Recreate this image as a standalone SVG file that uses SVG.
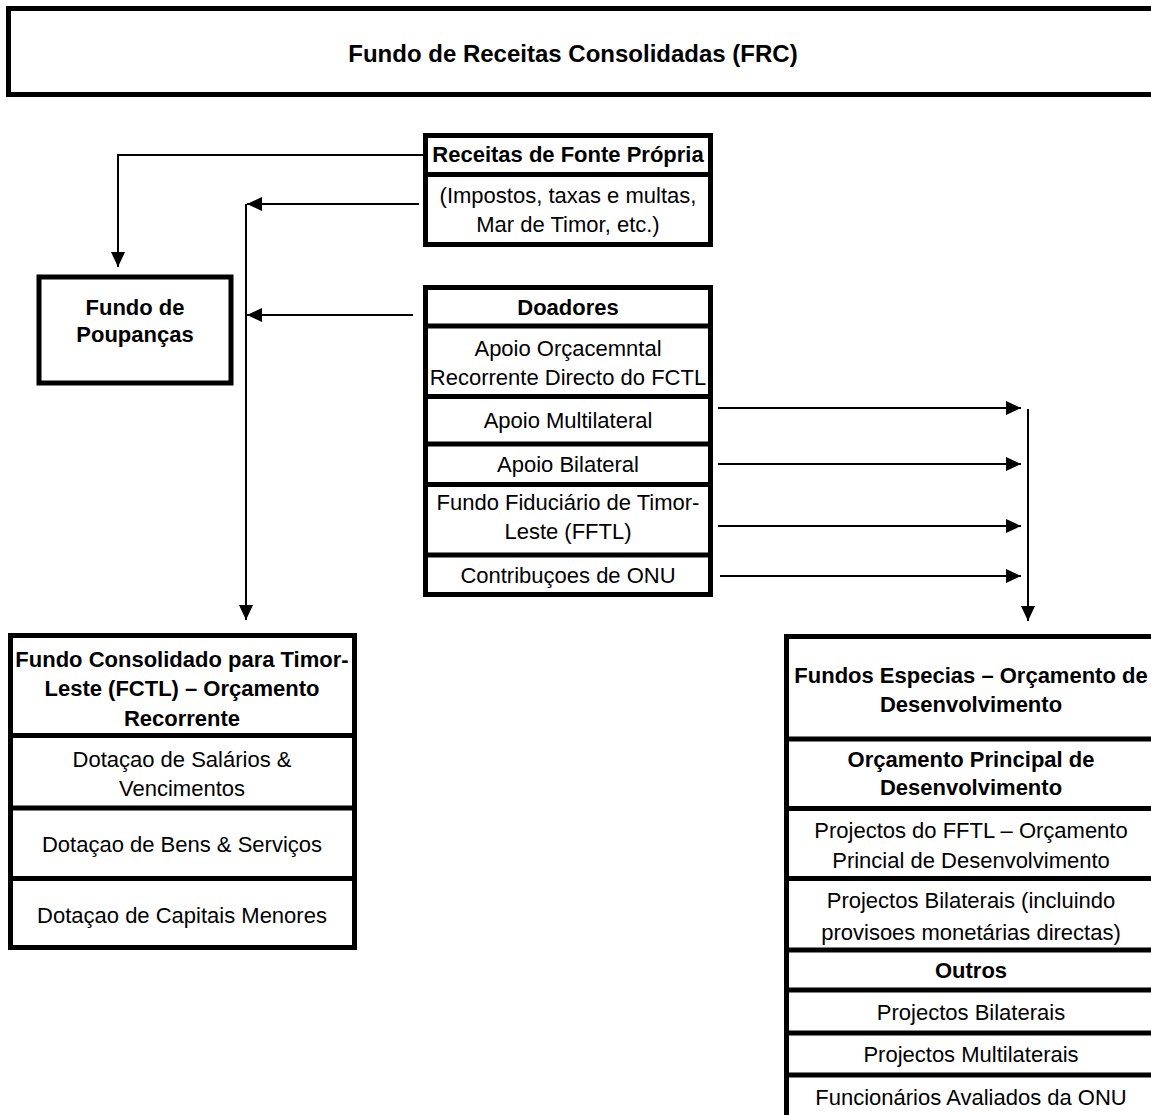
<svg xmlns="http://www.w3.org/2000/svg" width="1151" height="1115" viewBox="0 0 1151 1115">
<style>
  .box { fill: #fff; stroke: #000; stroke-width: 5; }
  .div { stroke: #000; stroke-width: 5; }
  .conn { fill: none; stroke: #000; stroke-width: 2; }
  text { font-family: "Liberation Sans", Arial, sans-serif; font-size: 22px; fill: #000; text-anchor: middle; }
  .b { font-weight: bold; }
  .t { font-size: 24px; }
</style>
<defs>
  <marker id="arr" markerUnits="userSpaceOnUse" markerWidth="16" markerHeight="16" refX="15" refY="7" orient="auto">
    <path d="M0,0 L15,7 L0,14 z" fill="#000"/>
  </marker>
</defs>
<rect width="1151" height="1115" fill="#fff"/>

<g id="frc">
  <rect class="box" x="8.5" y="8.5" width="1170" height="86"/>
  <text class="b t" x="573" y="62">Fundo de Receitas Consolidadas (FRC)</text>
</g>

<g id="receitas">
  <rect class="box" x="425.5" y="135.5" width="285" height="109"/>
  <line class="div" x1="425" y1="174.5" x2="711" y2="174.5"/>
  <text class="b" x="568" y="162">Receitas de Fonte Própria</text>
  <text x="568" y="203">(Impostos, taxas e multas,</text>
  <text x="568" y="232">Mar de Timor, etc.)</text>
</g>

<g id="poupancas">
  <rect class="box" x="39" y="277" width="192" height="106"/>
  <text class="b" x="135" y="315">Fundo de</text>
  <text class="b" x="135" y="342">Poupanças</text>
</g>

<g id="doadores">
  <rect class="box" x="425.5" y="287.5" width="285" height="307"/>
  <line class="div" x1="425" y1="326" x2="711" y2="326"/>
  <line class="div" x1="425" y1="396.5" x2="711" y2="396.5"/>
  <line class="div" x1="425" y1="444" x2="711" y2="444"/>
  <line class="div" x1="425" y1="484.5" x2="711" y2="484.5"/>
  <line class="div" x1="425" y1="555" x2="711" y2="555"/>
  <text class="b" x="568" y="315">Doadores</text>
  <text x="568" y="356">Apoio Orçacemntal</text>
  <text x="568" y="385">Recorrente Directo do FCTL</text>
  <text x="568" y="428">Apoio Multilateral</text>
  <text x="568" y="472">Apoio Bilateral</text>
  <text x="568" y="510">Fundo Fiduciário de Timor-</text>
  <text x="568" y="539">Leste (FFTL)</text>
  <text x="568" y="583">Contribuçoes de ONU</text>
</g>

<g id="fctl">
  <rect class="box" x="10.5" y="635.5" width="344" height="312"/>
  <line class="div" x1="10" y1="735.5" x2="355" y2="735.5"/>
  <line class="div" x1="10" y1="808" x2="355" y2="808"/>
  <line class="div" x1="10" y1="878.5" x2="355" y2="878.5"/>
  <text class="b" x="182" y="667">Fundo Consolidado para Timor-</text>
  <text class="b" x="182" y="696">Leste (FCTL) – Orçamento</text>
  <text class="b" x="182" y="726">Recorrente</text>
  <text x="182" y="767">Dotaçao de Salários &amp;</text>
  <text x="182" y="796">Vencimentos</text>
  <text x="182" y="852">Dotaçao de Bens &amp; Serviços</text>
  <text x="182" y="923">Dotaçao de Capitais Menores</text>
</g>

<g id="especiais">
  <rect class="box" x="786.5" y="636.5" width="400" height="500"/>
  <line class="div" x1="786" y1="739" x2="1151" y2="739"/>
  <line class="div" x1="786" y1="808.5" x2="1151" y2="808.5"/>
  <line class="div" x1="786" y1="878.5" x2="1151" y2="878.5"/>
  <line class="div" x1="786" y1="950" x2="1151" y2="950"/>
  <line class="div" x1="786" y1="990" x2="1151" y2="990"/>
  <line class="div" x1="786" y1="1033" x2="1151" y2="1033"/>
  <line class="div" x1="786" y1="1075" x2="1151" y2="1075"/>
  <text class="b" x="971" y="683">Fundos Especias – Orçamento de</text>
  <text class="b" x="971" y="712">Desenvolvimento</text>
  <text class="b" x="971" y="767">Orçamento Principal de</text>
  <text class="b" x="971" y="795">Desenvolvimento</text>
  <text x="971" y="838">Projectos do FFTL – Orçamento</text>
  <text x="971" y="868">Princial de Desenvolvimento</text>
  <text x="971" y="908">Projectos Bilaterais (incluindo</text>
  <text x="971" y="940">provisoes monetárias directas)</text>
  <text class="b" x="971" y="978">Outros</text>
  <text x="971" y="1020">Projectos Bilaterais</text>
  <text x="971" y="1062">Projectos Multilaterais</text>
  <text x="971" y="1105">Funcionários Avaliados da ONU</text>
</g>

<g id="connectors">
  <path class="conn" d="M423,155 H118 V267" marker-end="url(#arr)"/>
  <path class="conn" d="M419,204 H247" marker-end="url(#arr)"/>
  <path class="conn" d="M246,204 V620" marker-end="url(#arr)"/>
  <path class="conn" d="M413,315 H247" marker-end="url(#arr)"/>
  <path class="conn" d="M718,408 H1021" marker-end="url(#arr)"/>
  <path class="conn" d="M718,464 H1021" marker-end="url(#arr)"/>
  <path class="conn" d="M718,526 H1021" marker-end="url(#arr)"/>
  <path class="conn" d="M720,576 H1021" marker-end="url(#arr)"/>
  <path class="conn" d="M1028,409 V621" marker-end="url(#arr)"/>
</g>
</svg>
